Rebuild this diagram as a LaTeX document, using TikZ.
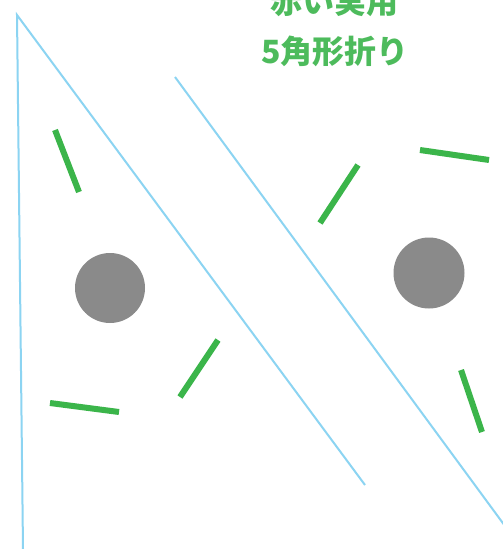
\documentclass[tikz,border=0pt]{standalone}
\usepackage{fontspec}
\newfontfamily\jpfont{Noto Sans CJK JP}
\definecolor{foldblue}{HTML}{8CD4F2}
\definecolor{leafgreen}{HTML}{3BB54A}
\definecolor{textgreen}{HTML}{4DBB5C}
\definecolor{dotgray}{HTML}{8A8A8A}
\tikzset{
  fold/.style={draw=foldblue, line width=2pt},
  leaf/.style={draw=leafgreen, line width=6pt},
  dot/.style={fill=dotgray},
  caption/.style={text=textgreen, font=\jpfont\bfseries\fontsize{32}{38}\selectfont, inner sep=0pt, anchor=center}
}
\begin{document}
\begin{tikzpicture}[x=1pt,y=-1pt]
\useasboundingbox (0,0) rectangle (503,549);
\fill[white] (0,0) rectangle (503,549);
% fold lines
\coordinate (apex) at (17,15);
\coordinate (leftbot) at (23,549);
\coordinate (d1end) at (365,485);
\coordinate (d2start) at (175,77);
\coordinate (d2end) at (505,526);
\draw[fold] (leftbot) -- (apex) -- (d1end);
\draw[fold] (d2start) -- (d2end);
% dots
\fill[dot] (110,288) circle (35);
\fill[dot] (429,273) circle (35.5);
% leaves
\coordinate (l1a) at (55,130); \coordinate (l1b) at (79,192);
\coordinate (l2a) at (358,165); \coordinate (l2b) at (320,223);
\coordinate (l3a) at (420,150); \coordinate (l3b) at (489,160);
\coordinate (l4a) at (218,340); \coordinate (l4b) at (180,397);
\coordinate (l5a) at (50,403); \coordinate (l5b) at (119,412);
\coordinate (l6a) at (461,370); \coordinate (l6b) at (482,432);
\draw[leaf] (l1a) -- (l1b);
\draw[leaf] (l2a) -- (l2b);
\draw[leaf] (l3a) -- (l3b);
\draw[leaf] (l4a) -- (l4b);
\draw[leaf] (l5a) -- (l5b);
\draw[leaf] (l6a) -- (l6b);
% caption
\node[caption] (cap1) at (334,1) {赤い実用};
\node[caption] (cap2) at (335,51) {5角形折り};
\end{tikzpicture}
\end{document}
